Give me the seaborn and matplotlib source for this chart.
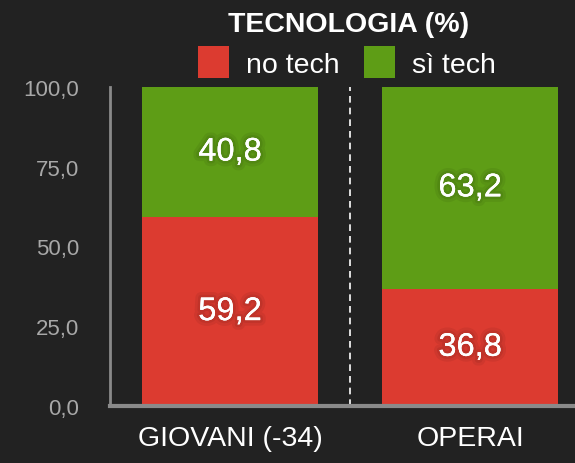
import matplotlib
matplotlib.use("Agg")
import matplotlib.pyplot as plt
import matplotlib.patheffects as pe
from matplotlib.patches import Patch
import seaborn as sns
import pandas as pd

categories = ["GIOVANI (-34)", "OPERAI"]
no_tech = [59.2, 36.8]
si_tech = [40.8, 63.2]
series_labels = ["no tech", "sì tech"]
legend_title = "TECNOLOGIA (%)"
yticks = [0, 25, 50, 75, 100]

bg = "#222222"
red = "#dc3b30"
green = "#5e9d16"

sns.set_style("dark")
plt.rcParams["font.family"] = ["Liberation Sans", "DejaVu Sans"]

df = pd.DataFrame({"cat": categories, "no": no_tech, "si": si_tech})
df["total"] = df["no"] + df["si"]

fig = plt.figure(figsize=(5.75, 4.64), dpi=100, facecolor=bg)
ax = fig.add_axes([110 / 575, 57 / 464, 465 / 575, 319 / 464])
ax.set_facecolor(bg)

# stacked: full bar in green, red part on top of it
sns.barplot(data=df, x="cat", y="total", color=green, width=0.73, saturation=1,
            linewidth=0, ax=ax)
sns.barplot(data=df, x="cat", y="no", color=red, width=0.73, saturation=1,
            linewidth=0, ax=ax)

shadow = [pe.withStroke(linewidth=8, foreground="#000000", alpha=0.06),
          pe.withStroke(linewidth=4, foreground="#000000", alpha=0.07),
          pe.Normal()]
for i, (n, s) in enumerate(zip(no_tech, si_tech)):
    ax.text(i, n / 2, f"{n:.1f}".replace(".", ","), ha="center", va="center",
            color="white", fontsize=23.5, path_effects=shadow)
    ax.text(i, n + s / 2, f"{s:.1f}".replace(".", ","), ha="center", va="center",
            color="white", fontsize=23.5, path_effects=shadow)

ax.axvline(0.5, color="white", lw=1.2, ls=(0, (4, 3)))

ax.set_xlim(-0.5, 1.4375)
ax.set_ylim(0, 100)
ax.set_yticks(yticks)
ax.set_yticklabels([f"{v:.1f}".replace(".", ",") for v in yticks])
ax.tick_params(axis="y", length=0, pad=22, labelsize=16, labelcolor="#a8a8a8")
ax.tick_params(axis="x", length=0, pad=14, labelsize=20.5, labelcolor="white")
ax.set_xlabel("")
ax.set_ylabel("")
ax.grid(False)

for side in ["top", "right"]:
    ax.spines[side].set_visible(False)
ax.spines["left"].set_visible(True)
ax.spines["left"].set_color("#8a8a8a")
ax.spines["left"].set_linewidth(2)
ax.spines["bottom"].set_visible(True)
ax.spines["bottom"].set_color("#8a8a8a")
ax.spines["bottom"].set_linewidth(3)

fig.text(349 / 575, 1 - 25 / 464, legend_title, ha="center", va="center",
         color="white", fontsize=20.5, fontweight="bold")
handles = [Patch(facecolor=red, edgecolor="none", label=series_labels[0]),
           Patch(facecolor=green, edgecolor="none", label=series_labels[1])]
fig.legend(handles=handles, loc="center",
           bbox_to_anchor=(347 / 575, 1 - 63 / 464), ncol=2, frameon=False,
           fontsize=20.5, handlelength=1.1, handleheight=1.3,
           handletextpad=0.6, columnspacing=0.85, borderaxespad=0,
           labelcolor="white")

fig.savefig("out.png", dpi=100, facecolor=bg)
